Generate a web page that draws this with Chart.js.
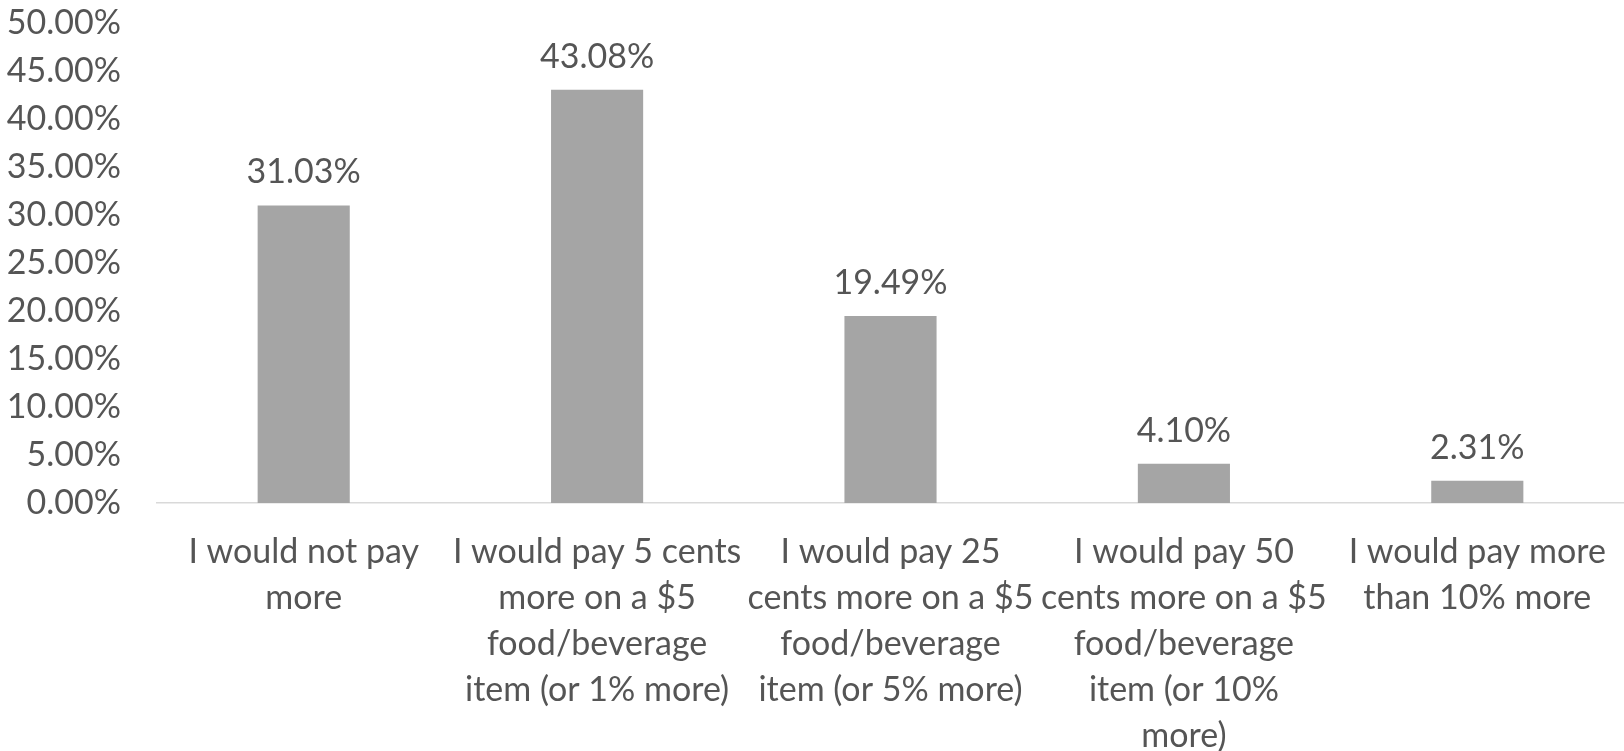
<!DOCTYPE html>
<html>
<head>
<meta charset="utf-8">
<script src="https://cdn.jsdelivr.net/npm/chart.js@4/dist/chart.umd.min.js"></script>
<style>
  html, body { margin: 0; padding: 0; background: #ffffff; }
  #wrap { width: 1624px; height: 751px; position: relative; }
</style>
</head>
<body>
<div id="wrap"><canvas id="chart" width="1624" height="751"></canvas></div>
<script>
// Willingness to pay more for a food/beverage item
const categories = [
  ["I would not pay", "more"],
  ["I would pay 5 cents", "more on a $5", "food/beverage", "item (or 1% more)"],
  ["I would pay 25", "cents more on a $5", "food/beverage", "item (or 5% more)"],
  ["I would pay 50", "cents more on a $5", "food/beverage", "item (or 10%", "more)"],
  ["I would pay more", "than 10% more"]
];
const shares = [31.03, 43.08, 19.49, 4.10, 2.31];
const yTicks = [0, 5, 10, 15, 20, 25, 30, 35, 40, 45, 50];

const FONT = "Lato, 'Open Sans', sans-serif";
const TEXT = "#555555";
const SIZE = 34;

// Writes each bar's value just above it
const valueLabels = {
  id: "valueLabels",
  afterDatasetsDraw(chart) {
    const { ctx } = chart;
    const meta = chart.getDatasetMeta(0);
    ctx.save();
    ctx.font = SIZE + "px " + FONT;
    ctx.fillStyle = TEXT;
    ctx.textAlign = "center";
    ctx.textBaseline = "middle";
    meta.data.forEach((bar, i) => {
      ctx.fillText(shares[i].toFixed(2) + "%", bar.x, bar.y - 33);
    });
    ctx.restore();
  }
};

new Chart(document.getElementById("chart"), {
  type: "bar",
  data: {
    labels: categories,
    datasets: [{
      data: shares,
      backgroundColor: "#a5a5a5",
      borderWidth: 0,
      barPercentage: 0.314,
      categoryPercentage: 1.0
    }]
  },
  options: {
    responsive: false,
    animation: false,
    layout: { padding: { top: 23.5, left: 0, right: 0, bottom: 0 } },
    plugins: { legend: { display: false }, tooltip: { enabled: false } },
    scales: {
      x: {
        grid: { display: false, drawTicks: false },
        border: { display: true, color: "#d9d9d9", width: 1.5 },
        ticks: {
          color: TEXT,
          font: { family: FONT, size: SIZE, lineHeight: 46 / SIZE },
          padding: 26,
          maxRotation: 0,
          autoSkip: false
        },
        afterFit(scale) {
          scale.height = 248;
          scale.paddingLeft = 0;
          scale.paddingRight = 0;
        }
      },
      y: {
        min: 0,
        max: 50,
        grid: { display: false, drawTicks: false },
        border: { display: false },
        afterBuildTicks(scale) { scale.ticks = yTicks.map(v => ({ value: v })); },
        ticks: {
          color: TEXT,
          font: { family: FONT, size: SIZE },
          padding: 36,
          callback: v => Number(v).toFixed(2) + "%"
        },
        afterFit(scale) {
          scale.width = 157;
          scale.paddingTop = 0;
          scale.paddingBottom = 0;
        }
      }
    }
  },
  plugins: [valueLabels]
});
</script>
</body>
</html>
